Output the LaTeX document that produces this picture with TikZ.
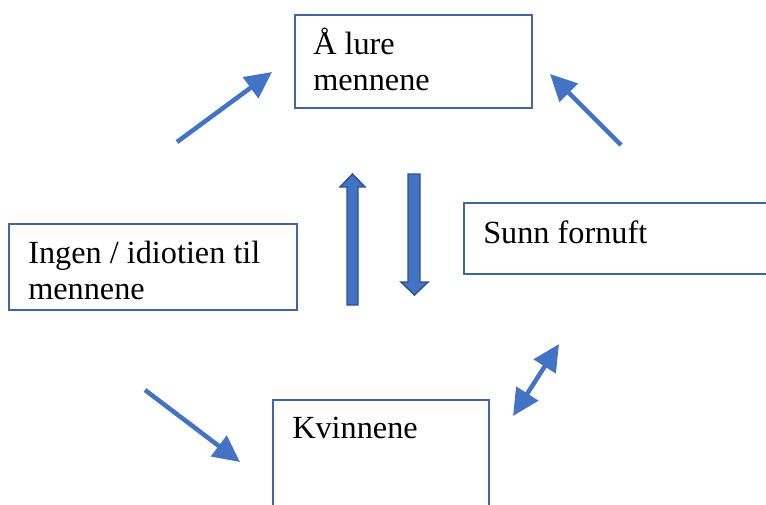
\documentclass[tikz,border=0pt]{standalone}
\usepackage{fontspec}
\setmainfont{Liberation Serif}
\usetikzlibrary{arrows.meta}
\definecolor{boxline}{HTML}{41659F}
\definecolor{arrowblue}{HTML}{4472C4}
\definecolor{arrowedge}{HTML}{2F528F}
\begin{document}
\begin{tikzpicture}[x=0.75pt,y=-0.75pt,
  textbox/.style={draw=boxline,line width=1.2pt,rectangle,inner sep=0pt,anchor=north west},
  label/.style={anchor=base west,inner sep=0pt,align=left,
    font=\fontsize{24.2pt}{26.8pt}\selectfont},
  flow/.style={draw=arrowblue,line width=3.4pt,
    -{Triangle[length=20pt,width=19pt]}},
  both/.style={draw=arrowblue,line width=3.4pt,
    {Triangle[length=20pt,width=19pt]}-{Triangle[length=20pt,width=19pt]}},
  block/.style={fill=arrowblue,draw=arrowedge,line width=1.1pt,line join=miter}]
\useasboundingbox (0,0) rectangle (766,504);
\clip (0,0) rectangle (766,504);

% text boxes
\node[textbox,minimum width=237*0.75pt,minimum height=93*0.75pt] (lure) at (294,14) {};
\node[textbox,minimum width=288*0.75pt,minimum height=86*0.75pt] (ingen) at (8,223) {};
\node[textbox,minimum width=340*0.75pt,minimum height=71*0.75pt] (sunn) at (463,202) {};
\node[textbox,minimum width=216*0.75pt,minimum height=140*0.75pt] (kvinner) at (272,399) {};

% labels (two-line labels are placed by the baseline of their last line)
\node[label] (lureT) at (313,90) {Å lure\\mennene};
\node[label] (ingenT) at (28,299) {Ingen / idiotien til\\mennene};
\node[label] (sunnT) at (483,243) {Sunn fornuft};
\node[label] (kvinnerT) at (292,438) {Kvinnene};

% end points of the loose arrows
\coordinate (a1s) at (177,142); \coordinate (a1e) at (272,72);
\coordinate (a2s) at (621,145); \coordinate (a2e) at (550,74);
\coordinate (a3s) at (145,390); \coordinate (a3e) at (240,462);
\coordinate (a4s) at (513,416); \coordinate (a4e) at (559,344);

\draw[flow] (a1s) -- (a1e);
\draw[flow] (a2s) -- (a2e);
\draw[flow] (a3s) -- (a3e);
\draw[both] (a4s) -- (a4e);

% block arrows between the top box and the middle
\draw[block] (347,305) -- (347,187) -- (340,187) -- (352.5,174) -- (365,187)
  -- (358,187) -- (358,305) -- cycle;
\draw[block] (408,174) -- (408,282) -- (401,282) -- (414.5,295) -- (428,282)
  -- (420,282) -- (420,174) -- cycle;
\end{tikzpicture}
\end{document}
